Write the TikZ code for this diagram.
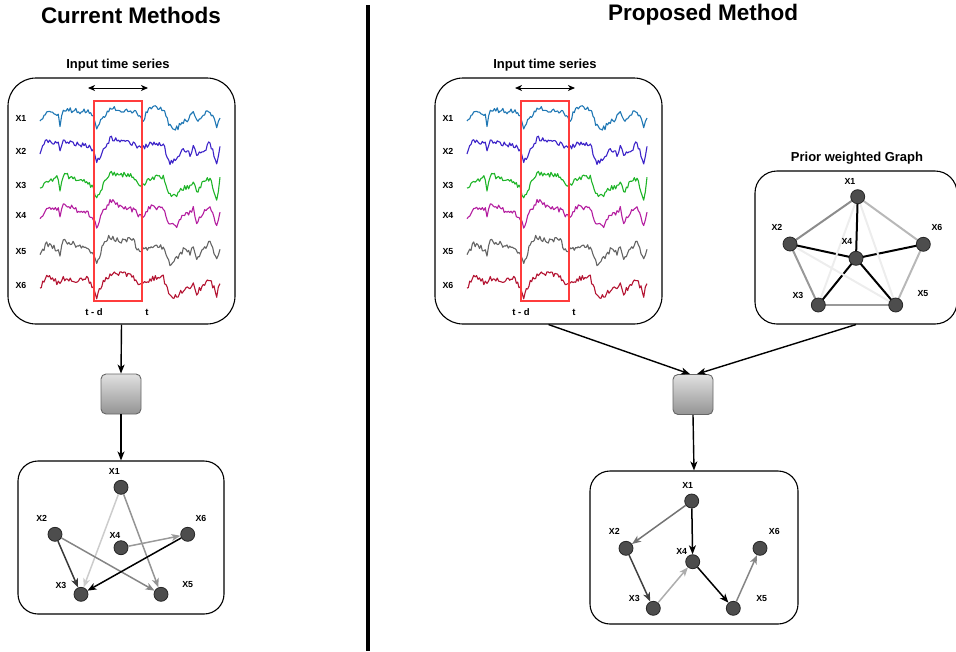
\documentclass[tikz,border=0pt]{standalone}
\usepackage{fontspec}
\setmainfont{Liberation Sans}
\usetikzlibrary{arrows.meta,backgrounds}
\definecolor{cA}{RGB}{31,119,180}
\definecolor{cB}{RGB}{60,35,200}
\definecolor{cC}{RGB}{30,180,40}
\definecolor{cD}{RGB}{180,30,160}
\definecolor{cE}{RGB}{100,100,100}
\definecolor{cF}{RGB}{180,20,50}
\definecolor{nodefill}{RGB}{77,77,77}
\definecolor{winred}{RGB}{255,60,60}
\newcommand\mkseries[3]{%
 \pgfmathsetseed{#2}%
 \gdef\spx{40}\gdef\spy{3}%
 \xdef\tmppath{(40,3)}%
 \foreach \xb/\yb in {46.7/-6.7,58.3/-5,60/3.3,63.3/-8.3,80/-6.7,86.7/-5,93.3/0,96.7/8.3,103.3/-3.3,110/-11.7,120/-8.3,133.3/-8.3,138.3/-3.3,143.3/0,150/-8.3,163.3/-6.7,170/11,176.7/8.3,183.3/1.7,190/0,193.3/-5,196.7/6.7,203.3/-1.7,210/-6.7,216.7/10,220/-3.3}{%
   \pgfmathsetmacro\ty{#3*\yb+3.5*rand}%
   \pgfmathtruncatemacro\nsub{max(1,round((\xb-\spx)/1.4))}%
   \foreach \k in {1,...,\nsub}{%
     \pgfmathsetmacro\xx{\spx+(\xb-\spx)*\k/\nsub}%
     \pgfmathsetmacro\yy{\spy+(\ty-\spy)*\k/\nsub+2.7*rand}%
     \xdef\tmppath{\tmppath -- (\xx,\yy)}%
   }%
   \xdef\spx{\xb}\xdef\spy{\ty}%
 }%
 \global\expandafter\let\csname #1\endcsname\tmppath
}
\mkseries{serA}{11}{1.1}
\mkseries{serB}{23}{1.15}
\mkseries{serC}{37}{1.1}
\mkseries{serD}{41}{1.15}
\mkseries{serE}{53}{1.05}
\mkseries{serF}{67}{1.1}
\begin{document}
\begin{tikzpicture}[x=1pt,y=-1pt,
  title/.style={font=\fontsize{22.5}{25}\selectfont\bfseries},
  subtitle/.style={font=\fontsize{13}{15}\selectfont\bfseries},
  lbl/.style={font=\fontsize{8.8}{10}\selectfont\bfseries,inner sep=0pt},
  gbox/.style={draw=black!60,line width=0.9pt,rounded corners=5pt,top color=black!12,bottom color=black!42,minimum width=40pt,minimum height=40pt,inner sep=0pt},
  gnode/.style={circle,fill=nodefill,draw=black!85,line width=0.8pt,minimum size=14pt,inner sep=0pt},
  flow/.style={line width=1.4pt,-{Stealth[length=9pt,width=7pt,inset=2.5pt]}},
  edge/.style={line width=1.5pt,-{Stealth[length=9pt,width=7pt,inset=2.5pt]}},
  pedge/.style={line width=2pt},
  series/.style={line width=1.1pt,line join=round}
]
\useasboundingbox (0,0) rectangle (956,651);
% titles and divider
\node[title] (t1) at (131,15) {Current Methods};
\node[title] (t2) at (703,15) {Proposed Method};
\coordinate (dtop) at (368,5);
\coordinate (dbot) at (368,651);
\draw[line width=4pt] (dtop) -- (dbot);
% input boxes
\foreach \side/\dx in {L/0,R/427}{
  \begin{scope}[xshift=\dx]
  \node[draw=black,line width=1.1pt,rounded corners=28pt,minimum width=227pt,minimum height=246pt,inner sep=0pt] (in\side) at (121.5,201) {};
  \node[subtitle] (ist\side) at (118,65) {Input time series};
  \coordinate (da\side) at (88,88);
  \coordinate (db\side) at (148,88);
  \draw[line width=1pt,{Stealth[length=7pt,width=6pt,inset=2pt]}-{Stealth[length=7pt,width=6pt,inset=2pt]}] (da\side) -- (db\side);
  \foreach \nm/\yy/\col/\ser in {1/118/cA/serA,2/151/cB/serB,3/185/cC/serC,4/215.7/cD/serD,5/251.7/cE/serE,6/285/cF/serF}{
    \node[lbl] (x\nm\side) at (21,\yy) {X\nm};
    \begin{scope}[yshift=-\yy]
      \draw[series,draw=\col] \csname\ser\endcsname;
    \end{scope}
  }
  \node[draw=winred,line width=1.8pt,minimum width=48pt,minimum height=200pt,inner sep=0pt] (win\side) at (118,200.7) {};
  \node[lbl,font=\fontsize{9.5}{10}\selectfont\bfseries] (td\side) at (94,312) {t - d};
  \node[lbl,font=\fontsize{9.5}{10}\selectfont\bfseries] (tt\side) at (147,312) {t};
  \end{scope}
}
% left pipeline
\node[gbox] (gL) at (121,394) {};
\draw[flow] (inL.south) -- (gL.north);
\node[draw=black,line width=1.1pt,rounded corners=20pt,minimum width=206pt,minimum height=153pt,inner sep=0pt] (outL) at (121,537.5) {};
\draw[flow] (gL.south) -- (outL.north);
\node[gnode] (a1) at (121,487.3) {};
\node[gnode] (a2) at (55,534.3) {};
\node[gnode] (a4) at (121,547.7) {};
\node[gnode] (a6) at (187.7,534.3) {};
\node[gnode] (a3) at (81,594.3) {};
\node[gnode] (a5) at (161,594.3) {};
\node[lbl] (la1) at (114.3,471.7) {X1};
\node[lbl] (la2) at (41.7,518.3) {X2};
\node[lbl] (la4) at (115,535) {X4};
\node[lbl] (la6) at (201,518.3) {X6};
\node[lbl] (la3) at (61,585) {X3};
\node[lbl] (la5) at (187.7,585) {X5};
\draw[edge,draw=black!20] (a1) -- (a3);
\draw[edge,draw=black!42] (a1) -- (a5);
\draw[edge,draw=black!48] (a2) -- (a5);
\draw[edge,draw=black!40] (a4) -- (a6);
\draw[edge,draw=black!78] (a2) -- (a3);
\draw[edge,draw=black] (a6) -- (a3);
% prior weighted graph
\node[subtitle] (pgt) at (857,158) {Prior weighted Graph};
\node[draw=black,line width=1.1pt,rounded corners=22pt,minimum width=202pt,minimum height=153pt,inner sep=0pt] (prior) at (856,247.5) {};
\node[gnode] (p1) at (857.7,196.7) {};
\node[gnode] (p2) at (790,244) {};
\node[gnode] (p4) at (856,258.3) {};
\node[gnode] (p6) at (923.3,244.3) {};
\node[gnode] (p3) at (818.3,305) {};
\node[gnode] (p5) at (895.7,305) {};
\node[lbl] (lp1) at (850,181.7) {X1};
\node[lbl] (lp2) at (777,227) {X2};
\node[lbl] (lp4) at (847,241.7) {X4};
\node[lbl] (lp6) at (937,227.7) {X6};
\node[lbl] (lp3) at (798,295) {X3};
\node[lbl] (lp5) at (923,294) {X5};
\begin{pgfonlayer}{background}
\draw[pedge,draw=black] (p1.center) -- (p4.center);
\draw[pedge,draw=black] (p2.center) -- (p4.center);
\draw[pedge,draw=black] (p6.center) -- (p4.center);
\draw[pedge,draw=black] (p3.center) -- (p4.center);
\draw[pedge,draw=black] (p5.center) -- (p4.center);
\draw[pedge,draw=black!45] (p1.center) -- (p2.center);
\draw[pedge,draw=black!40] (p2.center) -- (p3.center);
\draw[pedge,draw=black!40] (p3.center) -- (p5.center);
\draw[pedge,draw=black!28] (p1.center) -- (p6.center);
\draw[pedge,draw=black!28] (p6.center) -- (p5.center);
\draw[pedge,draw=black!7] (p1.center) -- (p3.center);
\draw[pedge,draw=black!7] (p1.center) -- (p5.center);
\draw[pedge,draw=black!7] (p2.center) -- (p5.center);
\end{pgfonlayer}
% right pipeline
\node[gbox] (gR) at (693,394.5) {};
\draw[flow] (inR.south) -- ([xshift=-3pt]gR.north);
\draw[flow] (prior.south) -- ([xshift=4pt]gR.north);
\node[draw=black,line width=1.1pt,rounded corners=20pt,minimum width=208pt,minimum height=153pt,inner sep=0pt] (outR) at (694,547.5) {};
\draw[flow] (gR.south) -- (outR.north);
\node[gnode] (b1) at (691.7,501) {};
\node[gnode] (b2) at (626,548.3) {};
\node[gnode] (b4) at (692.7,561.7) {};
\node[gnode] (b6) at (760,548.3) {};
\node[gnode] (b3) at (653.3,608.3) {};
\node[gnode] (b5) at (733.3,608.3) {};
\node[lbl] (lb1) at (687.7,485) {X1};
\node[lbl] (lb2) at (614.3,531.7) {X2};
\node[lbl] (lb4) at (681.7,551) {X4};
\node[lbl] (lb6) at (774.3,531.7) {X6};
\node[lbl] (lb3) at (634.3,598.3) {X3};
\node[lbl] (lb5) at (761.7,598.3) {X5};
\draw[edge,draw=black!55] (b1) -- (b2);
\draw[edge,draw=black] (b1) -- (b4);
\draw[edge,draw=black!75] (b2) -- (b3);
\draw[edge,draw=black!32] (b3) -- (b4);
\draw[edge,draw=black] (b4) -- (b5);
\draw[edge,draw=black!48] (b5) -- (b6);
\end{tikzpicture}
\end{document}
